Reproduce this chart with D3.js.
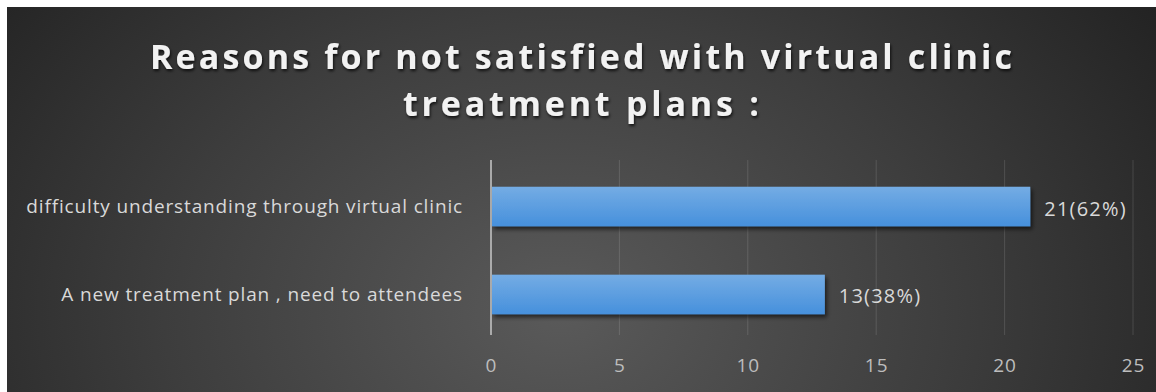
<!DOCTYPE html>
<html>
<head>
<meta charset="utf-8">
<script src="https://cdn.jsdelivr.net/npm/d3@7"></script>
<style>
  html, body { margin: 0; padding: 0; background: #ffffff; }
  svg { display: block; }
</style>
</head>
<body>
<script>
// Survey results: reasons for dissatisfaction with virtual-clinic treatment plans
const categories = [
  "difficulty understanding through virtual clinic",
  "A new treatment plan , need to attendees"
];
const counts = [21, 13];
const percents = [62, 38];
const ticks = [0, 5, 10, 15, 20, 25];
const titleLines = ["Reasons for not satisfied with virtual clinic", "treatment plans :"];

const W = 1156, H = 392;
const FONT = "'Open Sans', sans-serif";
const svg = d3.select("body").append("svg").attr("width", W).attr("height", H);
const defs = svg.append("defs");

// chart area background
const bg = defs.append("radialGradient").attr("id", "bg")
  .attr("gradientUnits", "userSpaceOnUse")
  .attr("cx", 560).attr("cy", 310).attr("r", 720)
  .attr("gradientTransform", "translate(560,310) scale(1,0.75) translate(-560,-310)");
bg.append("stop").attr("offset", "0%").attr("stop-color", "#5a5a5a");
bg.append("stop").attr("offset", "55%").attr("stop-color", "#3d3d3d");
bg.append("stop").attr("offset", "100%").attr("stop-color", "#232323");

const barGrad = defs.append("linearGradient").attr("id", "barGrad")
  .attr("x1", 0).attr("y1", 0).attr("x2", 0).attr("y2", 1);
barGrad.append("stop").attr("offset", "0%").attr("stop-color", "#74ace4");
barGrad.append("stop").attr("offset", "100%").attr("stop-color", "#4690dc");

const shadow = defs.append("filter").attr("id", "shadow")
  .attr("x", "-5%").attr("y", "-30%").attr("width", "115%").attr("height", "170%");
shadow.append("feDropShadow").attr("dx", 2).attr("dy", 3).attr("stdDeviation", 2)
  .attr("flood-color", "#000").attr("flood-opacity", 0.6);

const titleShadow = defs.append("filter").attr("id", "tshadow")
  .attr("x", "-5%").attr("y", "-30%").attr("width", "110%").attr("height", "170%");
titleShadow.append("feDropShadow").attr("dx", 1).attr("dy", 2).attr("stdDeviation", 1.5)
  .attr("flood-color", "#000").attr("flood-opacity", 0.75);

svg.append("rect").attr("x", 7).attr("y", 7).attr("width", W - 7).attr("height", H - 7)
  .attr("fill", "url(#bg)");

// title, spread to its line widths
const title = svg.append("text")
  .attr("text-anchor", "middle")
  .attr("font-family", FONT)
  .attr("font-weight", 700)
  .attr("font-size", 34)
  .attr("fill", "#f2f2f2")
  .attr("filter", "url(#tshadow)");
const titleWidths = [862, 356];
titleLines.forEach((t, i) => {
  const ts = title.append("tspan").attr("x", 581).attr("y", 69 + i * 47).text(t);
  const natural = ts.node().getComputedTextLength();
  const ls = (titleWidths[i] - natural) / Math.max(1, t.length - 1);
  ts.attr("letter-spacing", ls);
  ts.attr("x", 581 + ls / 2);
});

// scales
const x = d3.scaleLinear().domain([0, 25]).range([491, 1133]);
const y = d3.scaleBand().domain(categories).range([163, 338]).paddingInner(0.55).paddingOuter(0.27);
const plotTop = 160, plotBottom = 335;

// gridlines
svg.append("g").selectAll("line").data(ticks.slice(1)).join("line")
  .attr("x1", d => x(d)).attr("x2", d => x(d))
  .attr("y1", plotTop).attr("y2", plotBottom)
  .attr("stroke", "#ffffff").attr("stroke-opacity", 0.13).attr("stroke-width", 1);

// bars
svg.append("g").selectAll("rect").data(counts).join("rect")
  .attr("x", x(0) + 1)
  .attr("y", (d, i) => y(categories[i]))
  .attr("width", d => x(d) - x(0) - 1)
  .attr("height", y.bandwidth())
  .attr("fill", "url(#barGrad)")
  .attr("filter", "url(#shadow)");

// vertical axis line
svg.append("line")
  .attr("x1", x(0)).attr("x2", x(0)).attr("y1", plotTop).attr("y2", plotBottom)
  .attr("stroke", "#c8c8c8").attr("stroke-width", 1.5);

// x axis tick labels
const xAxis = d3.axisBottom(x).tickValues(ticks).tickSize(0).tickPadding(0);
const gx = svg.append("g").attr("transform", "translate(0,358)").call(xAxis);
gx.select(".domain").remove();
gx.selectAll("text")
  .attr("font-family", FONT)
  .attr("font-size", 19)
  .attr("letter-spacing", 1)
  .attr("fill", "#bdbdbd")
  .attr("dy", "0.35em")
  .attr("y", 7);

// category labels
const yAxis = d3.axisLeft(y).tickSize(0).tickPadding(0);
const gy = svg.append("g").attr("transform", "translate(463,0)").call(yAxis);
gy.select(".domain").remove();
gy.selectAll("text")
  .attr("font-family", FONT)
  .attr("font-size", 19)
  .attr("letter-spacing", 0.85)
  .attr("fill", "#d9d9d9")
  .attr("dy", "0.35em");

// value labels
svg.append("g").selectAll("text").data(counts).join("text")
  .attr("x", d => x(d) + 14)
  .attr("y", (d, i) => y(categories[i]) + y.bandwidth() / 2 + 2)
  .attr("dy", "0.35em")
  .attr("font-family", FONT)
  .attr("font-size", 20)
  .attr("letter-spacing", 1.2)
  .attr("fill", "#d9d9d9")
  .text((d, i) => `${d}(${percents[i]}%)`);
</script>
</body>
</html>
